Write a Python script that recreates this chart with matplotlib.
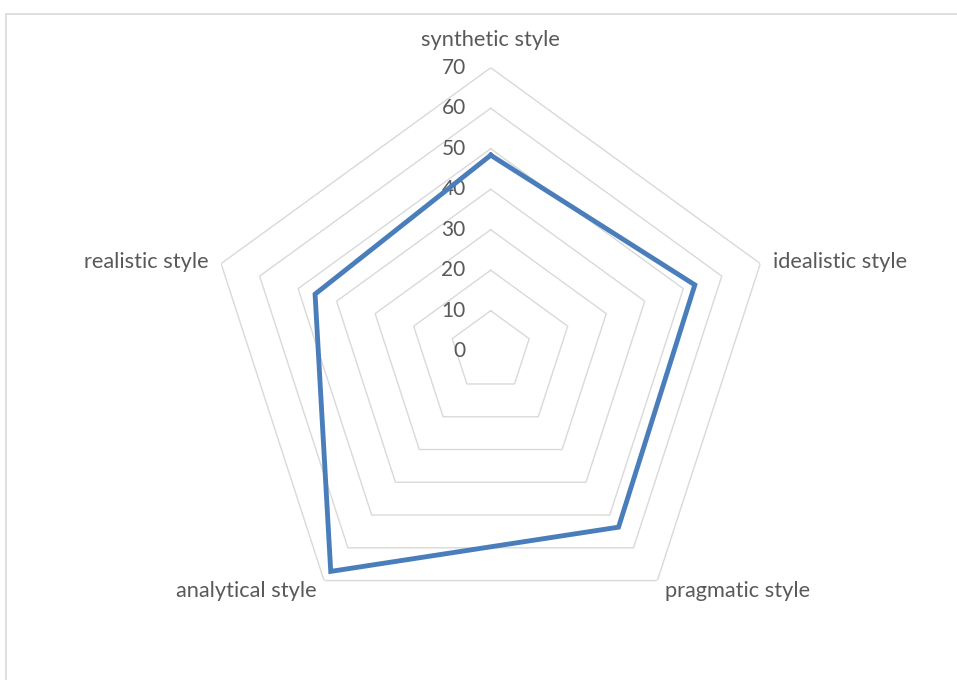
import numpy as np
import matplotlib.pyplot as plt
from matplotlib.patches import Rectangle

# data
categories = ['synthetic style', 'idealistic style', 'pragmatic style',
              'analytical style', 'realistic style']
values = [48.4, 53.0, 53.7, 67.2, 45.6]
levels = [0, 10, 20, 30, 40, 50, 60, 70]

text_color = '#595959'
grid_color = '#d9d9d9'
line_color = '#4a7ebb'

plt.rcParams['font.family'] = ['Lato', 'DejaVu Sans']

fig = plt.figure(figsize=(9.57, 6.8), dpi=100)
fig.patches.append(Rectangle((6/957, -0.5), 2, 0.5 + 1 - 14/680,
                             transform=fig.transFigure, fill=False,
                             edgecolor=grid_color, linewidth=1.2))

ax = fig.add_axes([0.2165, 0.0666, 0.5925, 0.8338], projection='polar')
ax.set_theta_zero_location('N')
ax.set_theta_direction(-1)
ax.set_ylim(0, 70)
ax.grid(False)
ax.spines['polar'].set_visible(False)
ax.set_xticks([])
ax.set_yticks([])
ax.patch.set_alpha(0)

n = len(categories)
theta = np.linspace(0, 2*np.pi, n, endpoint=False)
theta_closed = np.append(theta, theta[0])

# pentagon rings
for lv in levels[1:]:
    ax.plot(theta_closed, [lv]*(n+1), color=grid_color, lw=1.0, zorder=1)

# series
vals_closed = values + values[:1]
ax.plot(theta_closed, vals_closed, color=line_color, lw=3.5,
        solid_joinstyle='miter', zorder=3)

# radial labels
for lv in levels:
    ax.annotate(str(lv), xy=(0, lv), xytext=(-25, 0), textcoords='offset pixels',
                ha='right', va='center', fontsize=15, color=text_color, zorder=2)

# category labels
offsets = [(0, 28, 'center'), (13, 2, 'left'), (8, -10, 'left'),
           (-7, -10, 'right'), (-12, 2, 'right')]
for t, lab, (dx, dy, ha) in zip(theta, categories, offsets):
    ax.annotate(lab, xy=(t, levels[-1]), xytext=(dx, dy), textcoords='offset pixels',
                ha=ha, va='center', fontsize=15.7, color=text_color)

fig.savefig('out.png', dpi=100)
